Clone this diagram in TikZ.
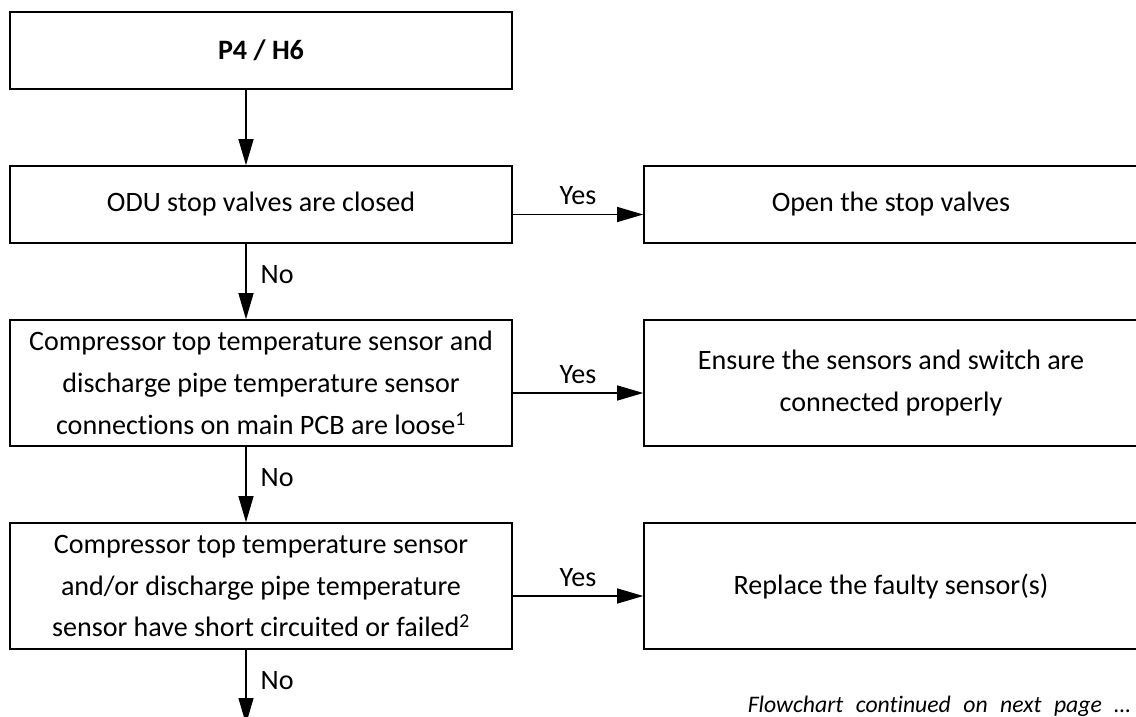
\documentclass[tikz,border=0pt]{standalone}
\usepackage{fontspec}
\setmainfont{Carlito}[Ligatures=NoCommon]
\usetikzlibrary{arrows.meta}

\tikzset{
  box/.style={draw, line width=1.6pt, minimum width=502pt, inner sep=0pt,
    align=center, font=\fontsize{28.1}{41.7}\selectfont},
  rbox/.style={box, minimum width=494pt},
  arr/.style={line width=1.2pt, -{Triangle[length=26pt,width=15pt]}},
  lbl/.style={inner sep=0pt, font=\fontsize{28.1}{32}\selectfont}
}

\begin{document}
\begin{tikzpicture}[x=1pt,y=-1pt]
\useasboundingbox (0,0) rectangle (1136,717);

% Questions
\node[box, minimum height=77pt] (q1) at (261,50.5) {\bfseries P4 / H6};
\node[box, minimum height=77pt] (q2) at (261,204.5) {ODU stop valves are closed};
\node[box, minimum height=126pt] (q3) at (261,383)
  {Compressor top temperature sensor and\\discharge pipe temperature sensor\\connections on main PCB are loose\textsuperscript{1}};
\node[box, minimum height=126pt] (q4) at (261,586)
  {Compressor top temperature sensor\\and/or discharge pipe temperature\\sensor have short circuited or failed\textsuperscript{2}};

% Actions
\node[rbox, minimum height=77pt] (r2) at (891,204.5) {Open the stop valves};
\node[rbox, minimum height=126pt] (r3) at (891,383)
  {Ensure the sensors and switch are\\connected properly};
\node[rbox, minimum height=126pt] (r4) at (891,586) {Replace the faulty sensor(s)};

\coordinate (next) at (246,724);

\draw[arr] ([xshift=-15pt]q1.south) -- ([xshift=-15pt]q2.north);

\foreach \a/\b in {q2/q3,q3/q4}
{
\draw[arr] ([xshift=-15pt]\a.south) -- node[lbl, pos=0.53, anchor=base west, xshift=14pt] {No} ([xshift=-15pt]\b.north);
}
\draw[arr] ([xshift=-15pt]q4.south) -- node[lbl, pos=0.53, anchor=base west, xshift=14pt] {No} (next);

\foreach \a/\b in {q2/r2,q3/r3,q4/r4}
{
\draw[arr] ([yshift=-10pt]\a.east) -- node[lbl, midway, anchor=base, yshift=10pt] {Yes} ([yshift=-10pt]\b.west);
}

\node[anchor=base east, inner sep=0pt, font=\itshape\fontsize{23.7}{28}\selectfont] (note) at (1131,712)
  {\makebox[383pt][s]{Flowchart continued on next page \ldots}};

\end{tikzpicture}
\end{document}
